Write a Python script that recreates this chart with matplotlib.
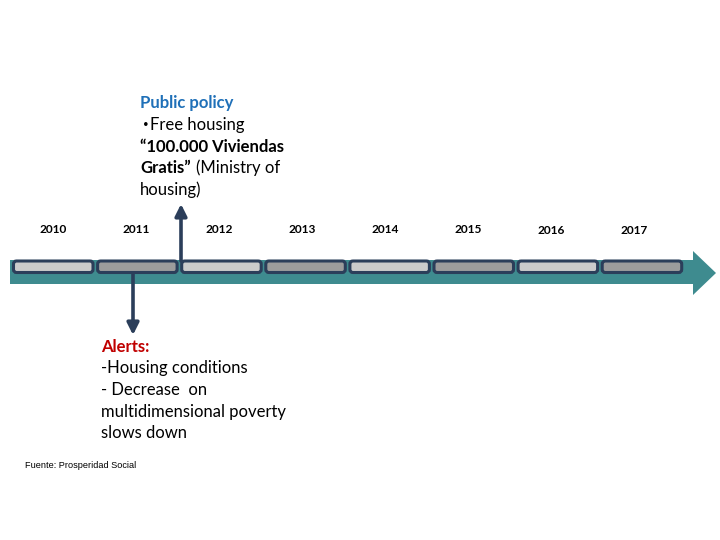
import matplotlib
matplotlib.use("Agg")
import matplotlib.pyplot as plt
from matplotlib.patches import FancyBboxPatch, Polygon

years = ["2010", "2011", "2012", "2013", "2014", "2015", "2016", "2017"]
shades = ["light", "dark", "light", "dark", "light", "dark", "light", "dark"]
policy_title = "Public policy"
policy_lines = ["Free housing", "\u201c100.000 Viviendas", "Gratis\u201d", "housing)"]
policy_extra = "(Ministry of"
policy_bold = [False, True, True, False]
alert_title = "Alerts:"
alert_lines = ["-Housing conditions", "- Decrease  on", "multidimensional poverty", "slows down"]
source = "Fuente: Prosperidad Social"

TEAL = "#3E8B8F"
NAVY = "#2B3E5A"
LIGHT = "#CBCBCB"
DARK = "#9C9C9C"
BLUE = "#1F70B8"
RED = "#C00000"

plt.rcParams["font.family"] = ["Lato", "DejaVu Sans"]

fig = plt.figure(figsize=(7.2, 5.4), dpi=100)
ax = fig.add_axes([0, 0, 1, 1])
ax.set_xlim(0, 720)
ax.set_ylim(540, 0)
ax.axis("off")

# timeline band + arrow head
band = Polygon([(10, 260), (693, 260), (693, 251), (716, 273), (693, 295),
                (693, 284), (10, 284)], closed=True, facecolor=TEAL, edgecolor="none")
ax.add_patch(band)

x0, step, w = 13.5, 84.1, 79.5
for i, (yr, sh) in enumerate(zip(years, shades)):
    xs = x0 + i * step
    box = FancyBboxPatch((xs, 261), w, 11.5, boxstyle="round,pad=0,rounding_size=3",
                         facecolor=LIGHT if sh == "light" else DARK,
                         edgecolor=NAVY, linewidth=2.2)
    ax.add_patch(box)
    ax.text(53 + i * 83.0, 229.5 + (0.8 if i >= 6 else 0), yr, ha="center", va="center",
            fontsize=8.6, fontweight="bold", color="black")

# up arrow (policy)
ax.annotate("", xy=(181, 204), xytext=(181, 261),
            arrowprops=dict(arrowstyle="-|>,head_length=0.7,head_width=0.35",
                            color=NAVY, lw=2.6, shrinkA=0, shrinkB=0))
# down arrow (alerts)
ax.annotate("", xy=(133, 335), xytext=(133, 273),
            arrowprops=dict(arrowstyle="-|>,head_length=0.7,head_width=0.35",
                            color=NAVY, lw=2.6, shrinkA=0, shrinkB=0))

fs = 12
ls = 21.5
ax.text(140, 103, policy_title, ha="left", va="center", fontsize=fs,
        fontweight="bold", color=BLUE)
ax.text(143, 125, "\u2022", ha="left", va="center", fontsize=7, color="black")
for k, (ln, b) in enumerate(zip(policy_lines, policy_bold)):
    xt = 150 if k == 0 else 140
    ax.text(xt, 125 + ls * k, ln, ha="left", va="center", fontsize=fs,
            fontweight="bold" if b else "normal", color="black")
ax.text(196, 125 + ls * 2, policy_extra, ha="left", va="center", fontsize=fs,
        color="black")

ax.text(101, 347, alert_title, ha="left", va="center", fontsize=fs,
        fontweight="bold", color=RED)
for k, ln in enumerate(alert_lines):
    ax.text(101, 368.5 + ls * k, ln, ha="left", va="center", fontsize=fs, color="black")

ax.text(25, 466, source, ha="left", va="center", fontsize=6.6,
        family=["Liberation Sans", "DejaVu Sans"], color="black")

fig.savefig("out.png", dpi=100)
